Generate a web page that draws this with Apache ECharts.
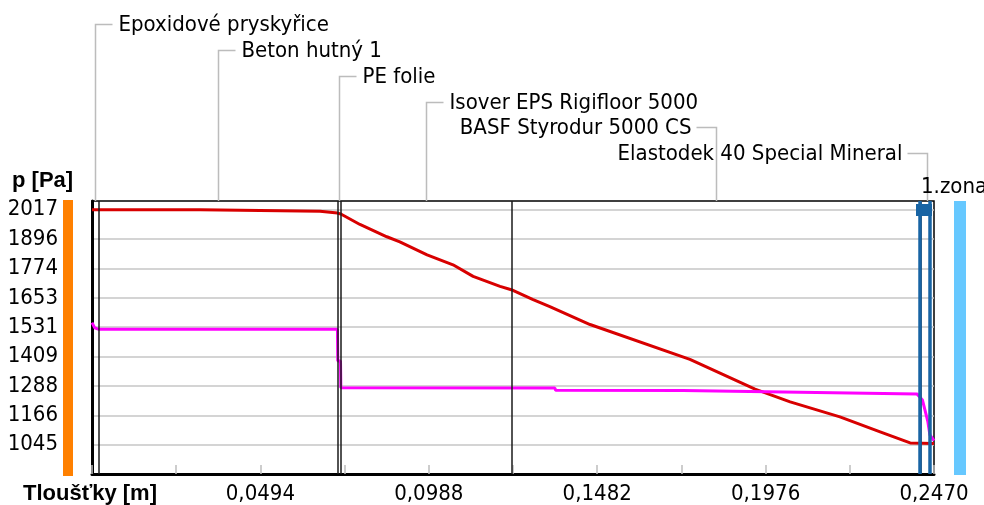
<!DOCTYPE html>
<html><head><meta charset="utf-8">
<script src="https://cdn.jsdelivr.net/npm/echarts@6/dist/echarts.min.js"></script>
<style>html,body{margin:0;padding:0;background:#fff}#c{width:984px;height:505px}</style>
</head><body><div id="c"></div>
<script>
// ---- data ----
const layerNames = ['Epoxidové pryskyřice', 'Beton hutný 1', 'PE folie', 'Isover EPS Rigifloor 5000', 'BASF Styrodur 5000 CS', 'Elastodek 40 Special Mineral'];
const layerThickness = [0.002, 0.070, 0.001, 0.050, 0.120, 0.004];
const yTickLabels = ['1045', '1166', '1288', '1409', '1531', '1653', '1774', '1896', '2017'];
const xTickLabels = ['0,0494', '0,0988', '0,1482', '0,1976', '0,2470'];
const satX = [0, 0.002, 0.0317, 0.0318, 0.0669, 0.0670, 0.072, 0.073, 0.0786, 0.0865, 0.0903, 0.0983, 0.1059, 0.1118, 0.1197, 0.123, 0.1294, 0.1343, 0.1461, 0.1754, 0.1945, 0.2048, 0.2194, 0.2312, 0.2400, 0.247];
const satP = [2017, 2017, 2017, 2011, 2011, 2005, 2003, 1999, 1956, 1905, 1884, 1830, 1789, 1741, 1700, 1686, 1645, 1616, 1542, 1398, 1275, 1222, 1160, 1098, 1052, 1050];
const parX = [0, 0.0008, 0.002, 0.072, 0.0721, 0.0729, 0.073, 0.1358, 0.1360, 0.1734, 0.1736, 0.2124, 0.2126, 0.2420, 0.2436, 0.2452, 0.2458, 0.2470];
const parP = [1550, 1528, 1522, 1522, 1391, 1391, 1280, 1279, 1270, 1269, 1262, 1261, 1255, 1255, 1230, 1140, 1085, 1062];
const zoneBounds = [0.2429, 0.2458];
const zoneLabel = '1.zona';
const yAxisName = 'p [Pa]';
const xAxisName = 'Tloušťky [m]';

// ---- axis scale ----
const Y_MIN = 923.5, Y_MAX = 2053, Y_STEP = 121.5;
const X_STEP = 0.0247;
const FONT = '"DejaVu Sans Condensed", "Liberation Sans Narrow", "Liberation Sans", sans-serif';
const FS = 22;
const BOLD = 'bold 22px "Liberation Sans", Arial, sans-serif';

const cum = [0];
layerThickness.forEach(t => cum.push(+(cum[cum.length - 1] + t).toFixed(4)));
const X_MAX = cum[cum.length - 1];
const boundaries = cum.slice(1, -1);

const chart = echarts.init(document.getElementById('c'));
chart.setOption({
  animation: false,
  backgroundColor: '#fff',
  grid: { left: 92, right: 50, top: 201, bottom: 30, show: true, borderColor: '#000', borderWidth: 1.5 },
  xAxis: {
    type: 'value', min: 0, max: X_MAX, interval: X_STEP,
    axisLine: { show: true, lineStyle: { color: '#000', width: 3 } },
    axisTick: { show: true, inside: true, length: 9, lineStyle: { color: '#bdbdbd', width: 1.5 } },
    splitLine: { show: false },
    axisLabel: {
      margin: 9, fontSize: FS, fontFamily: FONT, color: '#000',
      formatter: v => {
        const k = v / X_STEP, i = Math.round(k);
        if (Math.abs(k - i) < 0.01 && i > 0 && i % 2 === 0) return xTickLabels[i / 2 - 1] || '';
        return '';
      }
    }
  },
  yAxis: {
    type: 'value', min: Y_MIN, max: Y_MAX, interval: Y_STEP,
    axisLine: { show: true, lineStyle: { color: '#000', width: 3 } },
    axisTick: { show: false },
    splitLine: { show: true, showMaxLine: false, showMinLine: false, lineStyle: { color: '#c6c6c6', width: 1.5 } },
    axisLabel: {
      margin: 34, fontSize: FS, fontFamily: FONT, color: '#000',
      formatter: v => {
        const k = (v - Y_MIN) / Y_STEP, i = Math.round(k);
        if (Math.abs(k - i) < 0.01 && i >= 1) return yTickLabels[i - 1] || '';
        return '';
      }
    }
  },
  series: [
    { type: 'line', data: [], z: 2, markLine: { silent: true, precision: 6, symbol: ['none', 'none'], label: { show: false },
        lineStyle: { color: '#1a1a1a', width: 1.5, type: 'solid' }, data: boundaries.map(b => ({ xAxis: b })) } },
    { type: 'line', data: satX.map((x, i) => [x, satP[i]]), showSymbol: false, symbol: 'none', z: 3,
      lineStyle: { color: '#d80000', width: 3 } },
    { type: 'line', data: parX.map((x, i) => [x, parP[i]]), showSymbol: false, symbol: 'none', z: 3,
      lineStyle: { color: '#ff00ff', width: 3 } },
    { type: 'line', data: [], z: 6, markLine: { silent: true, precision: 6, symbol: ['none', 'none'], label: { show: false },
        lineStyle: { color: '#1864a4', width: 3.5, type: 'solid' }, data: zoneBounds.map(b => ({ xAxis: b })) } }
  ]
});

// ---- annotations ----
const px = v => chart.convertToPixel({ xAxisIndex: 0 }, v);
const py = v => chart.convertToPixel({ yAxisIndex: 0 }, v);
const gTop = py(Y_MAX), gBot = py(Y_MIN), gLeft = px(0), gRight = px(X_MAX);
const rows = [24, 50, 76, 102, 127, 153];
const G = [];
layerNames.forEach((name, i) => {
  const cx = Math.round(px((cum[i] + cum[i + 1]) / 2)) + 0.5;
  const ry = rows[i] + 0.5;
  const right = i < 4;
  G.push({ type: 'polyline', silent: true, z: 10,
    shape: { points: [[cx, gTop], [cx, ry], [right ? cx + 17 : cx - 20, ry]] },
    style: { stroke: '#bcbcbc', lineWidth: 1.5, fill: null } });
  G.push({ type: 'text', silent: true, z: 10, x: right ? cx + 23 : cx - 25, y: ry + 1,
    style: { text: name, font: FS + 'px ' + FONT, fill: '#000', textAlign: right ? 'left' : 'right', textVerticalAlign: 'middle' } });
});
// zone marker
const zL = px(zoneBounds[0]), zR = px(zoneBounds[1]);
G.push({ type: 'rect', silent: true, z: 11, shape: { x: zL - 4, y: gTop + 3, width: gRight - zL + 2, height: 12 }, style: { fill: '#1864a4' } });
G.push({ type: 'text', silent: true, z: 10, x: zL + 1, y: 187,
  style: { text: zoneLabel, font: FS + 'px ' + FONT, fill: '#000', textAlign: 'left', textVerticalAlign: 'middle' } });
// side bars
G.push({ type: 'rect', silent: true, shape: { x: 63, y: gTop - 1, width: 10, height: gBot - gTop + 3 }, style: { fill: '#ff8000' } });
G.push({ type: 'rect', silent: true, shape: { x: gRight + 20, y: gTop, width: 12, height: gBot - gTop + 1 }, style: { fill: '#66c8ff' } });
// axis names
G.push({ type: 'text', silent: true, x: 12, y: 181,
  style: { text: yAxisName, font: BOLD, fill: '#000', textAlign: 'left', textVerticalAlign: 'middle' } });
G.push({ type: 'text', silent: true, x: 23, y: 494,
  style: { text: xAxisName, font: BOLD, fill: '#000', textAlign: 'left', textVerticalAlign: 'middle' } });
chart.setOption({ graphic: G });
</script>
</body></html>
